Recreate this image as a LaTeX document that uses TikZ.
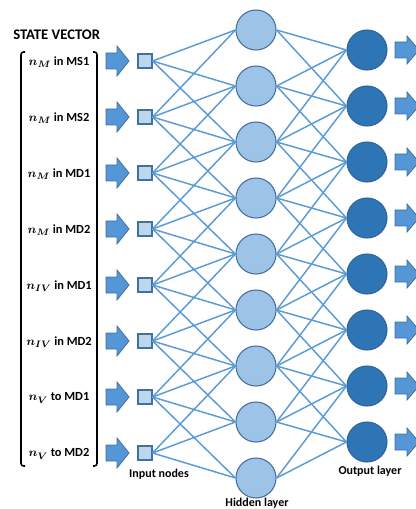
\documentclass[tikz,border=0pt]{standalone}
\usepackage{fontspec}
\setmainfont{Carlito}
\usepackage{bm}
\definecolor{bordc}{HTML}{41719C}
\definecolor{inc}{HTML}{BDD7EE}
\definecolor{hidc}{HTML}{9DC3E6}
\definecolor{outc}{HTML}{2E75B6}
\definecolor{outb}{HTML}{2F6496}
\definecolor{linec}{HTML}{5B9BD5}
\definecolor{arrc}{HTML}{5596D6}
\definecolor{arrb}{HTML}{41719C}
\begin{document}
\begin{tikzpicture}[x=0.75pt,y=-0.75pt,
  inbox/.style={draw=bordc, fill=inc, minimum size=10.5pt, inner sep=0pt, line width=0.8pt},
  hid/.style={circle, draw=bordc, fill=hidc, minimum size=30pt, inner sep=0pt, line width=0.8pt},
  outn/.style={circle, draw=outb, fill=outc, minimum size=30pt, inner sep=0pt, line width=0.8pt},
  conn/.style={draw=linec, line width=1.1pt},
  lbl/.style={font=\bfseries\fontsize{9.3}{11}\selectfont, inner sep=0pt},
  captext/.style={font=\bfseries\fontsize{9}{11}\selectfont, inner sep=0pt},
  ttl/.style={font=\bfseries\fontsize{11}{13}\selectfont, inner sep=0pt, anchor=west},
  brack/.style={line width=1.2pt, rounded corners=2pt},
  inarrow/.pic={\filldraw[fill=arrc, draw=arrb, line width=0.6pt] (0,-8) -- (11,-8) -- (11,-15) -- (23,0) -- (11,15) -- (11,8) -- (0,8) -- cycle;},
  outarrow/.pic={\filldraw[fill=arrc, draw=arrb, line width=0.6pt] (0,-8) -- (12,-8) -- (12,-14) -- (24,0) -- (12,14) -- (12,8) -- (0,8) -- cycle;}
]
\useasboundingbox (0,0) rectangle (416,509);
\clip (0,0) rectangle (416,509);

% title
\node[ttl] (title) at (13,35) {STATE VECTOR};

% bracket
\draw[brack] (25,52) -- (21,52) -- (21,466) -- (25,466);
\draw[brack] (93,52) -- (97,52) -- (97,466) -- (93,466);

% input nodes, labels, arrows
\foreach \i/\t in {1/{$\bm{n}_{\bm{M}}$ in MS1}, 2/{$\bm{n}_{\bm{M}}$ in MS2}, 3/{$\bm{n}_{\bm{M}}$ in MD1}, 4/{$\bm{n}_{\bm{M}}$ in MD2}, 5/{$\bm{n}_{\bm{IV}}$ in MD1}, 6/{$\bm{n}_{\bm{IV}}$ in MD2}, 7/{$\bm{n}_{\bm{V}}$ to MD1}, 8/{$\bm{n}_{\bm{V}}$ to MD2}} {
  \pgfmathsetmacro\yy{61+56*(\i-1)}
  \node[inbox] (in\i) at (145,\yy) {};
  \node[lbl] (lab\i) at (59,\yy+1) {\t};
  \pic at (106,\yy) {inarrow};
}

% hidden nodes
\foreach \k in {1,...,9} {
  \pgfmathsetmacro\yy{30+56*(\k-1)}
  \node[hid] (h\k) at (256,\yy) {};
}

% output nodes and arrows
\foreach \j in {1,...,8} {
  \pgfmathsetmacro\yy{50+56*(\j-1)}
  \node[outn] (o\j) at (367,\yy) {};
  \pic at (395,\yy) {outarrow};
}

% connections
\foreach \i in {1,...,8} {
  \foreach \d in {-1,0,1,2} {
    \pgfmathtruncatemacro\k{\i+\d}
    \ifnum\k>0 \ifnum\k<10
      \draw[conn] (in\i.east) -- (h\k.west);
      \draw[conn] (h\k.east) -- (o\i.west);
    \fi\fi
  }
}

% captions
\node[captext] (capin) at (159,474) {Input nodes};
\node[captext] (caphid) at (257,503) {Hidden layer};
\node[captext] (capout) at (370,471) {Output layer};
\end{tikzpicture}
\end{document}
